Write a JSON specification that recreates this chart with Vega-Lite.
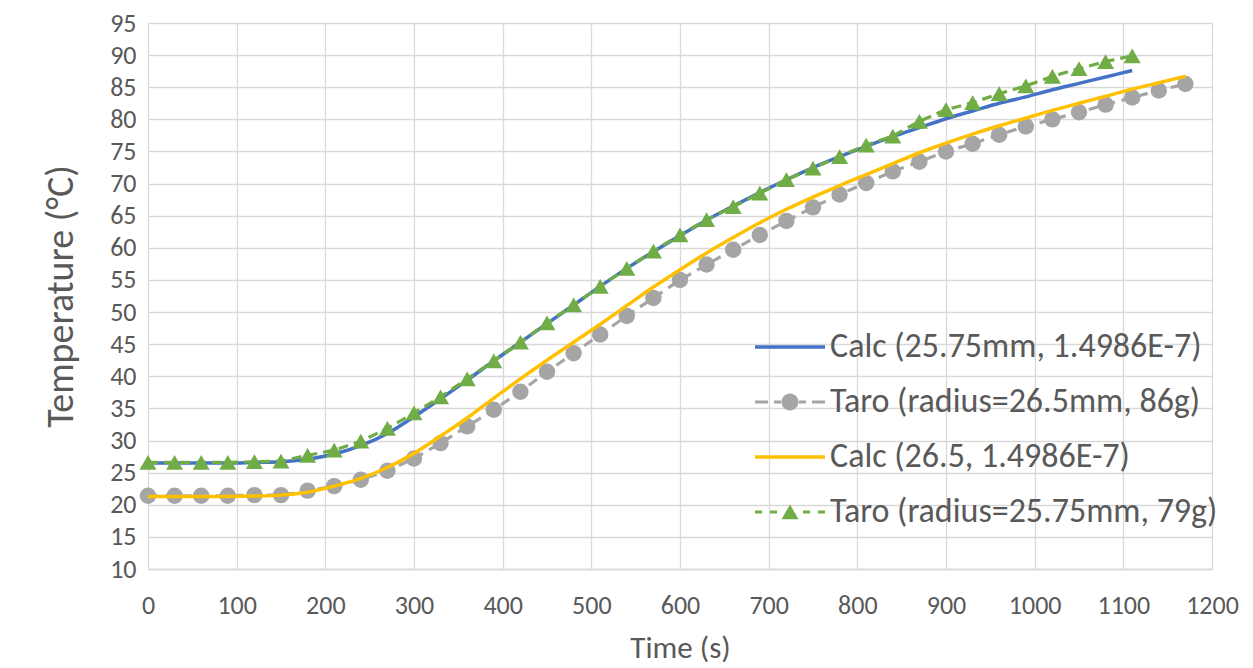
{
  "$schema": "https://vega.github.io/schema/vega-lite/v6.json",
  "width": 1064,
  "height": 546,
  "autosize": {"type": "none"},
  "padding": {"left": 148, "top": 23, "right": 41, "bottom": 99},
  "background": "white",
  "config": {
    "view": {"stroke": null},
    "font": "Carlito, Open Sans",
    "axis": {
      "gridColor": "#D9D9D9",
      "gridWidth": 1.3,
      "ticks": false,
      "tickSize": 0,
      "labelColor": "#595959",
      "titleColor": "#595959",
      "labelFont": "Carlito, Open Sans",
      "titleFont": "Carlito, Open Sans",
      "labelFontSize": 26,
      "titleFontWeight": "normal"
    }
  },
  "data": {
    "values": [
      {"series": "Calc (25.75mm, 1.4986E-7)", "t": 0, "temp": 26.5},
      {"series": "Calc (25.75mm, 1.4986E-7)", "t": 30, "temp": 26.5},
      {"series": "Calc (25.75mm, 1.4986E-7)", "t": 60, "temp": 26.5},
      {"series": "Calc (25.75mm, 1.4986E-7)", "t": 90, "temp": 26.5},
      {"series": "Calc (25.75mm, 1.4986E-7)", "t": 120, "temp": 26.6},
      {"series": "Calc (25.75mm, 1.4986E-7)", "t": 150, "temp": 26.7},
      {"series": "Calc (25.75mm, 1.4986E-7)", "t": 180, "temp": 27.1},
      {"series": "Calc (25.75mm, 1.4986E-7)", "t": 210, "temp": 27.9},
      {"series": "Calc (25.75mm, 1.4986E-7)", "t": 240, "temp": 29.2},
      {"series": "Calc (25.75mm, 1.4986E-7)", "t": 270, "temp": 31.1},
      {"series": "Calc (25.75mm, 1.4986E-7)", "t": 300, "temp": 33.7},
      {"series": "Calc (25.75mm, 1.4986E-7)", "t": 330, "temp": 36.5},
      {"series": "Calc (25.75mm, 1.4986E-7)", "t": 360, "temp": 39.4},
      {"series": "Calc (25.75mm, 1.4986E-7)", "t": 390, "temp": 42.4},
      {"series": "Calc (25.75mm, 1.4986E-7)", "t": 420, "temp": 45.3},
      {"series": "Calc (25.75mm, 1.4986E-7)", "t": 450, "temp": 48.2},
      {"series": "Calc (25.75mm, 1.4986E-7)", "t": 480, "temp": 51.1},
      {"series": "Calc (25.75mm, 1.4986E-7)", "t": 510, "temp": 54.0},
      {"series": "Calc (25.75mm, 1.4986E-7)", "t": 540, "temp": 56.8},
      {"series": "Calc (25.75mm, 1.4986E-7)", "t": 570, "temp": 59.4},
      {"series": "Calc (25.75mm, 1.4986E-7)", "t": 600, "temp": 61.9},
      {"series": "Calc (25.75mm, 1.4986E-7)", "t": 630, "temp": 64.3},
      {"series": "Calc (25.75mm, 1.4986E-7)", "t": 660, "temp": 66.5},
      {"series": "Calc (25.75mm, 1.4986E-7)", "t": 690, "temp": 68.6},
      {"series": "Calc (25.75mm, 1.4986E-7)", "t": 720, "temp": 70.6},
      {"series": "Calc (25.75mm, 1.4986E-7)", "t": 750, "temp": 72.5},
      {"series": "Calc (25.75mm, 1.4986E-7)", "t": 780, "temp": 74.2},
      {"series": "Calc (25.75mm, 1.4986E-7)", "t": 810, "temp": 75.8},
      {"series": "Calc (25.75mm, 1.4986E-7)", "t": 840, "temp": 77.3},
      {"series": "Calc (25.75mm, 1.4986E-7)", "t": 870, "temp": 78.7},
      {"series": "Calc (25.75mm, 1.4986E-7)", "t": 900, "temp": 80.1},
      {"series": "Calc (25.75mm, 1.4986E-7)", "t": 930, "temp": 81.3},
      {"series": "Calc (25.75mm, 1.4986E-7)", "t": 960, "temp": 82.5},
      {"series": "Calc (25.75mm, 1.4986E-7)", "t": 990, "temp": 83.5},
      {"series": "Calc (25.75mm, 1.4986E-7)", "t": 1020, "temp": 84.6},
      {"series": "Calc (25.75mm, 1.4986E-7)", "t": 1050, "temp": 85.6},
      {"series": "Calc (25.75mm, 1.4986E-7)", "t": 1080, "temp": 86.6},
      {"series": "Calc (25.75mm, 1.4986E-7)", "t": 1110, "temp": 87.6},

      {"series": "Taro (radius=26.5mm, 86g)", "t": 0, "temp": 21.4},
      {"series": "Taro (radius=26.5mm, 86g)", "t": 30, "temp": 21.4},
      {"series": "Taro (radius=26.5mm, 86g)", "t": 60, "temp": 21.4},
      {"series": "Taro (radius=26.5mm, 86g)", "t": 90, "temp": 21.4},
      {"series": "Taro (radius=26.5mm, 86g)", "t": 120, "temp": 21.5},
      {"series": "Taro (radius=26.5mm, 86g)", "t": 150, "temp": 21.5},
      {"series": "Taro (radius=26.5mm, 86g)", "t": 180, "temp": 22.2},
      {"series": "Taro (radius=26.5mm, 86g)", "t": 210, "temp": 22.9},
      {"series": "Taro (radius=26.5mm, 86g)", "t": 240, "temp": 23.9},
      {"series": "Taro (radius=26.5mm, 86g)", "t": 270, "temp": 25.3},
      {"series": "Taro (radius=26.5mm, 86g)", "t": 300, "temp": 27.2},
      {"series": "Taro (radius=26.5mm, 86g)", "t": 330, "temp": 29.6},
      {"series": "Taro (radius=26.5mm, 86g)", "t": 360, "temp": 32.2},
      {"series": "Taro (radius=26.5mm, 86g)", "t": 390, "temp": 34.8},
      {"series": "Taro (radius=26.5mm, 86g)", "t": 420, "temp": 37.6},
      {"series": "Taro (radius=26.5mm, 86g)", "t": 450, "temp": 40.7},
      {"series": "Taro (radius=26.5mm, 86g)", "t": 480, "temp": 43.6},
      {"series": "Taro (radius=26.5mm, 86g)", "t": 510, "temp": 46.5},
      {"series": "Taro (radius=26.5mm, 86g)", "t": 540, "temp": 49.4},
      {"series": "Taro (radius=26.5mm, 86g)", "t": 570, "temp": 52.2},
      {"series": "Taro (radius=26.5mm, 86g)", "t": 600, "temp": 55.0},
      {"series": "Taro (radius=26.5mm, 86g)", "t": 630, "temp": 57.4},
      {"series": "Taro (radius=26.5mm, 86g)", "t": 660, "temp": 59.7},
      {"series": "Taro (radius=26.5mm, 86g)", "t": 690, "temp": 62.0},
      {"series": "Taro (radius=26.5mm, 86g)", "t": 720, "temp": 64.2},
      {"series": "Taro (radius=26.5mm, 86g)", "t": 750, "temp": 66.3},
      {"series": "Taro (radius=26.5mm, 86g)", "t": 780, "temp": 68.3},
      {"series": "Taro (radius=26.5mm, 86g)", "t": 810, "temp": 70.1},
      {"series": "Taro (radius=26.5mm, 86g)", "t": 840, "temp": 71.9},
      {"series": "Taro (radius=26.5mm, 86g)", "t": 870, "temp": 73.4},
      {"series": "Taro (radius=26.5mm, 86g)", "t": 900, "temp": 75.0},
      {"series": "Taro (radius=26.5mm, 86g)", "t": 930, "temp": 76.2},
      {"series": "Taro (radius=26.5mm, 86g)", "t": 960, "temp": 77.6},
      {"series": "Taro (radius=26.5mm, 86g)", "t": 990, "temp": 78.9},
      {"series": "Taro (radius=26.5mm, 86g)", "t": 1020, "temp": 80.0},
      {"series": "Taro (radius=26.5mm, 86g)", "t": 1050, "temp": 81.1},
      {"series": "Taro (radius=26.5mm, 86g)", "t": 1080, "temp": 82.3},
      {"series": "Taro (radius=26.5mm, 86g)", "t": 1110, "temp": 83.4},
      {"series": "Taro (radius=26.5mm, 86g)", "t": 1140, "temp": 84.5},
      {"series": "Taro (radius=26.5mm, 86g)", "t": 1170, "temp": 85.5},

      {"series": "Calc (26.5, 1.4986E-7)", "t": 0, "temp": 21.3},
      {"series": "Calc (26.5, 1.4986E-7)", "t": 30, "temp": 21.3},
      {"series": "Calc (26.5, 1.4986E-7)", "t": 60, "temp": 21.3},
      {"series": "Calc (26.5, 1.4986E-7)", "t": 90, "temp": 21.3},
      {"series": "Calc (26.5, 1.4986E-7)", "t": 120, "temp": 21.35},
      {"series": "Calc (26.5, 1.4986E-7)", "t": 150, "temp": 21.5},
      {"series": "Calc (26.5, 1.4986E-7)", "t": 180, "temp": 21.95},
      {"series": "Calc (26.5, 1.4986E-7)", "t": 210, "temp": 22.9},
      {"series": "Calc (26.5, 1.4986E-7)", "t": 240, "temp": 24.1},
      {"series": "Calc (26.5, 1.4986E-7)", "t": 270, "temp": 25.8},
      {"series": "Calc (26.5, 1.4986E-7)", "t": 300, "temp": 28.0},
      {"series": "Calc (26.5, 1.4986E-7)", "t": 330, "temp": 30.7},
      {"series": "Calc (26.5, 1.4986E-7)", "t": 360, "temp": 33.5},
      {"series": "Calc (26.5, 1.4986E-7)", "t": 390, "temp": 36.6},
      {"series": "Calc (26.5, 1.4986E-7)", "t": 420, "temp": 39.6},
      {"series": "Calc (26.5, 1.4986E-7)", "t": 450, "temp": 42.5},
      {"series": "Calc (26.5, 1.4986E-7)", "t": 480, "temp": 45.3},
      {"series": "Calc (26.5, 1.4986E-7)", "t": 510, "temp": 48.1},
      {"series": "Calc (26.5, 1.4986E-7)", "t": 540, "temp": 51.0},
      {"series": "Calc (26.5, 1.4986E-7)", "t": 570, "temp": 53.9},
      {"series": "Calc (26.5, 1.4986E-7)", "t": 600, "temp": 56.6},
      {"series": "Calc (26.5, 1.4986E-7)", "t": 630, "temp": 59.2},
      {"series": "Calc (26.5, 1.4986E-7)", "t": 660, "temp": 61.6},
      {"series": "Calc (26.5, 1.4986E-7)", "t": 690, "temp": 63.9},
      {"series": "Calc (26.5, 1.4986E-7)", "t": 720, "temp": 66.0},
      {"series": "Calc (26.5, 1.4986E-7)", "t": 750, "temp": 67.9},
      {"series": "Calc (26.5, 1.4986E-7)", "t": 780, "temp": 69.7},
      {"series": "Calc (26.5, 1.4986E-7)", "t": 810, "temp": 71.4},
      {"series": "Calc (26.5, 1.4986E-7)", "t": 840, "temp": 73.1},
      {"series": "Calc (26.5, 1.4986E-7)", "t": 870, "temp": 74.8},
      {"series": "Calc (26.5, 1.4986E-7)", "t": 900, "temp": 76.3},
      {"series": "Calc (26.5, 1.4986E-7)", "t": 930, "temp": 77.7},
      {"series": "Calc (26.5, 1.4986E-7)", "t": 960, "temp": 79.0},
      {"series": "Calc (26.5, 1.4986E-7)", "t": 990, "temp": 80.2},
      {"series": "Calc (26.5, 1.4986E-7)", "t": 1020, "temp": 81.4},
      {"series": "Calc (26.5, 1.4986E-7)", "t": 1050, "temp": 82.5},
      {"series": "Calc (26.5, 1.4986E-7)", "t": 1080, "temp": 83.6},
      {"series": "Calc (26.5, 1.4986E-7)", "t": 1110, "temp": 84.7},
      {"series": "Calc (26.5, 1.4986E-7)", "t": 1140, "temp": 85.7},
      {"series": "Calc (26.5, 1.4986E-7)", "t": 1170, "temp": 86.7},

      {"series": "Taro (radius=25.75mm, 79g)", "t": 0, "temp": 26.6},
      {"series": "Taro (radius=25.75mm, 79g)", "t": 30, "temp": 26.6},
      {"series": "Taro (radius=25.75mm, 79g)", "t": 60, "temp": 26.6},
      {"series": "Taro (radius=25.75mm, 79g)", "t": 90, "temp": 26.6},
      {"series": "Taro (radius=25.75mm, 79g)", "t": 120, "temp": 26.7},
      {"series": "Taro (radius=25.75mm, 79g)", "t": 150, "temp": 26.8},
      {"series": "Taro (radius=25.75mm, 79g)", "t": 180, "temp": 27.7},
      {"series": "Taro (radius=25.75mm, 79g)", "t": 210, "temp": 28.5},
      {"series": "Taro (radius=25.75mm, 79g)", "t": 240, "temp": 29.9},
      {"series": "Taro (radius=25.75mm, 79g)", "t": 270, "temp": 31.9},
      {"series": "Taro (radius=25.75mm, 79g)", "t": 300, "temp": 34.3},
      {"series": "Taro (radius=25.75mm, 79g)", "t": 330, "temp": 36.8},
      {"series": "Taro (radius=25.75mm, 79g)", "t": 360, "temp": 39.6},
      {"series": "Taro (radius=25.75mm, 79g)", "t": 390, "temp": 42.4},
      {"series": "Taro (radius=25.75mm, 79g)", "t": 420, "temp": 45.3},
      {"series": "Taro (radius=25.75mm, 79g)", "t": 450, "temp": 48.3},
      {"series": "Taro (radius=25.75mm, 79g)", "t": 480, "temp": 51.1},
      {"series": "Taro (radius=25.75mm, 79g)", "t": 510, "temp": 54.0},
      {"series": "Taro (radius=25.75mm, 79g)", "t": 540, "temp": 56.8},
      {"series": "Taro (radius=25.75mm, 79g)", "t": 570, "temp": 59.5},
      {"series": "Taro (radius=25.75mm, 79g)", "t": 600, "temp": 62.0},
      {"series": "Taro (radius=25.75mm, 79g)", "t": 630, "temp": 64.4},
      {"series": "Taro (radius=25.75mm, 79g)", "t": 660, "temp": 66.4},
      {"series": "Taro (radius=25.75mm, 79g)", "t": 690, "temp": 68.5},
      {"series": "Taro (radius=25.75mm, 79g)", "t": 720, "temp": 70.6},
      {"series": "Taro (radius=25.75mm, 79g)", "t": 750, "temp": 72.4},
      {"series": "Taro (radius=25.75mm, 79g)", "t": 780, "temp": 74.2},
      {"series": "Taro (radius=25.75mm, 79g)", "t": 810, "temp": 76.0},
      {"series": "Taro (radius=25.75mm, 79g)", "t": 840, "temp": 77.4},
      {"series": "Taro (radius=25.75mm, 79g)", "t": 870, "temp": 79.7},
      {"series": "Taro (radius=25.75mm, 79g)", "t": 900, "temp": 81.5},
      {"series": "Taro (radius=25.75mm, 79g)", "t": 930, "temp": 82.6},
      {"series": "Taro (radius=25.75mm, 79g)", "t": 960, "temp": 84.0},
      {"series": "Taro (radius=25.75mm, 79g)", "t": 990, "temp": 85.2},
      {"series": "Taro (radius=25.75mm, 79g)", "t": 1020, "temp": 86.7},
      {"series": "Taro (radius=25.75mm, 79g)", "t": 1050, "temp": 87.9},
      {"series": "Taro (radius=25.75mm, 79g)", "t": 1080, "temp": 89.0},
      {"series": "Taro (radius=25.75mm, 79g)", "t": 1110, "temp": 89.9}
    ]
  },
  "encoding": {
    "x": {
      "field": "t",
      "type": "quantitative",
      "scale": {"domain": [0, 1200], "nice": false, "zero": false},
      "axis": {
        "title": "Time (s)",
        "titleFontSize": 31,
        "format": "d",
        "values": [0, 100, 200, 300, 400, 500, 600, 700, 800, 900, 1000, 1100, 1200],
        "labelPadding": 23,
        "titlePadding": 15,
        "domainColor": "#D9D9D9",
        "domainWidth": 1.5,
        "labelFlush": false
      }
    },
    "y": {
      "field": "temp",
      "type": "quantitative",
      "scale": {"domain": [10, 95], "nice": false, "zero": false},
      "axis": {
        "title": "Temperature (°C)",
        "titleFontSize": 38,
        "values": [10, 15, 20, 25, 30, 35, 40, 45, 50, 55, 60, 65, 70, 75, 80, 85, 90, 95],
        "labelPadding": 12,
        "titlePadding": 29,
        "domain": false,
        "labelFlush": false
      }
    }
  },
  "layer": [
    {
      "transform": [{"filter": "datum.series === 'Calc (25.75mm, 1.4986E-7)'"}],
      "mark": {"type": "line", "color": "#4472C4", "strokeWidth": 3.5, "interpolate": "monotone"}
    },
    {
      "transform": [{"filter": "datum.series === 'Taro (radius=26.5mm, 86g)'"}],
      "mark": {"type": "line", "color": "#A5A5A5", "strokeWidth": 3.2, "strokeDash": [10, 7]}
    },
    {
      "transform": [{"filter": "datum.series === 'Taro (radius=26.5mm, 86g)'"}],
      "mark": {"type": "point", "shape": "circle", "filled": true, "color": "#A5A5A5", "opacity": 1, "size": 270}
    },
    {
      "transform": [{"filter": "datum.series === 'Calc (26.5, 1.4986E-7)'"}],
      "mark": {"type": "line", "color": "#FFC000", "strokeWidth": 3.5, "interpolate": "monotone"}
    },
    {
      "transform": [{"filter": "datum.series === 'Taro (radius=25.75mm, 79g)'"}],
      "mark": {"type": "line", "color": "#70AD47", "strokeWidth": 3.2, "strokeDash": [10, 6]}
    },
    {
      "transform": [{"filter": "datum.series === 'Taro (radius=25.75mm, 79g)'"}],
      "mark": {"type": "point", "shape": "triangle-up", "filled": true, "color": "#70AD47", "opacity": 1, "size": 290}
    },
    {
      "transform": [{"filter": "datum.t < 0"}],
      "mark": {"type": "point", "filled": true, "opacity": 1},
      "encoding": {
        "color": {
          "field": "series",
          "type": "nominal",
          "scale": {
            "domain": ["Calc (25.75mm, 1.4986E-7)", "Taro (radius=26.5mm, 86g)", "Calc (26.5, 1.4986E-7)", "Taro (radius=25.75mm, 79g)"],
            "range": ["#4472C4", "#A5A5A5", "#FFC000", "#70AD47"]
          },
          "legend": {
            "orient": "none",
            "legendX": 625,
            "legendY": 307,
            "title": null,
            "labelFontSize": 34,
            "labelColor": "#595959",
            "labelFont": "Carlito, Open Sans",
            "symbolSize": 900,
            "symbolStrokeWidth": 0,
            "symbolOpacity": 1,
            "rowPadding": 21,
            "labelOffset": 23,
            "padding": 0,
            "labelLimit": 600
          }
        },
        "shape": {
          "field": "series",
          "type": "nominal",
          "scale": {
            "domain": ["Calc (25.75mm, 1.4986E-7)", "Taro (radius=26.5mm, 86g)", "Calc (26.5, 1.4986E-7)", "Taro (radius=25.75mm, 79g)"],
            "range": [
              "M-2.333,-0.11H2.333V0.11H-2.333Z",
              "M-2.333,-0.1H-1.467V0.1H-2.333Z M-1.067,-0.1H-0.6V0.1H-1.067Z M0.6,-0.1H1.067V0.1H0.6Z M1.467,-0.1H2.333V0.1H1.467Z M-0.567,0A0.567,0.567 0 1,0 0.567,0A0.567,0.567 0 1,0 -0.567,0Z",
              "M-2.333,-0.11H2.333V0.11H-2.333Z",
              "M-2.333,-0.1H-1.867V0.1H-2.333Z M-1.333,-0.1H-0.867V0.1H-1.333Z M0.867,-0.1H1.333V0.1H0.867Z M1.867,-0.1H2.333V0.1H1.867Z M0,-0.5L0.567,0.49L-0.567,0.49Z"
            ]
          },
          "legend": {
            "orient": "none",
            "legendX": 625,
            "legendY": 307,
            "title": null,
            "labelFontSize": 34,
            "labelColor": "#595959",
            "labelFont": "Carlito, Open Sans",
            "symbolSize": 900,
            "symbolStrokeWidth": 0,
            "symbolOpacity": 1,
            "rowPadding": 21,
            "labelOffset": 23,
            "padding": 0,
            "labelLimit": 600
          }
        }
      }
    }
  ]
}
